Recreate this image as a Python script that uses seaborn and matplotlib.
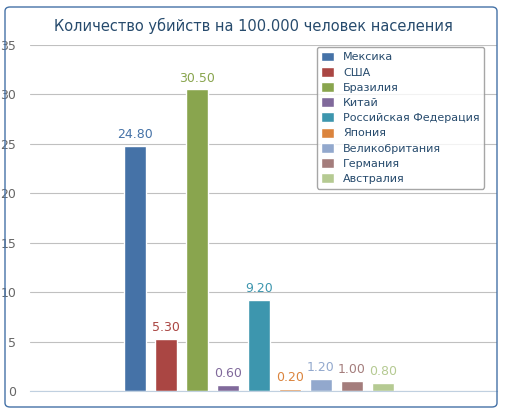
import matplotlib
matplotlib.use("Agg")
import matplotlib.pyplot as plt
import seaborn as sns
import pandas as pd
from matplotlib.patches import FancyBboxPatch

countries = ["Мексика", "США", "Бразилия", "Китай", "Российская Федерация",
             "Япония", "Великобритания", "Германия", "Австралия"]
values = [24.8, 5.3, 30.5, 0.6, 9.2, 0.2, 1.2, 1.0, 0.8]
colors = ["#4572A7", "#AA4643", "#89A54E", "#80699B", "#3D96AE",
          "#DB843D", "#92A8CD", "#A47D7C", "#B5CA92"]
yticks = [0, 5, 10, 15, 20, 25, 30, 35]
title = "Количество убийств на 100.000 человек населения"

sns.set_style("white")
plt.rcParams['font.family'] = ['DejaVu Sans']
df = pd.DataFrame({"x": list(range(len(countries))), "country": countries, "v": values})

fig = plt.figure(figsize=(5.07, 4.12), dpi=100)
ax = fig.add_axes([30/507, 21/412, 467/507, 346/412])
sns.barplot(data=df, x="x", y="v", hue="country", palette=colors, dodge=False,
            width=0.72, ax=ax, legend=True, native_scale=True, edgecolor="white",
            linewidth=1, saturation=1)
for i, (v, c) in enumerate(zip(values, colors)):
    ax.text(i, v + 0.5, f"{v:.2f}", color=c, ha="center", va="bottom", fontsize=9)
ax.set_xlim(-3.39, 11.68)
ax.set_ylim(0, 35)
ax.set_yticks(yticks)
ax.set_yticklabels([str(t) for t in yticks], fontsize=9, color="#666666")
ax.set_xticks([-1.94, 1.06, 4.06, 7.06, 10.06])
ax.set_xticklabels([])
ax.tick_params(axis="x", length=5, color="#C0D0E0", direction="out")
ax.tick_params(axis="y", length=0, pad=10)
ax.yaxis.grid(True, color="#C0C0C0", linewidth=0.8)
ax.set_axisbelow(True)
for s in ["top", "right", "left"]:
    ax.spines[s].set_visible(False)
ax.spines["bottom"].set_color("#C0D0E0")
ax.set_xlabel("")
ax.set_ylabel("")
leg = ax.legend(loc="upper right", bbox_to_anchor=(0.985, 1.01), fontsize=8, frameon=True,
                handlelength=1.2, handleheight=1.0, labelspacing=0.4, fancybox=True)
leg.get_frame().set_edgecolor("#909090")
for t in leg.get_texts():
    t.set_color("#274b6d")
fig.text(0.5, 1 - 26/412, title, ha="center", va="center", fontsize=10.5, color="#274b6d")
fig.patches.append(FancyBboxPatch((5/507, 5/412), 492/507, 400/412,
                                  boxstyle="round,pad=0,rounding_size=0.01",
                                  transform=fig.transFigure, fill=False,
                                  edgecolor="#4572A7", linewidth=1))
fig.savefig("out.png", dpi=100)
